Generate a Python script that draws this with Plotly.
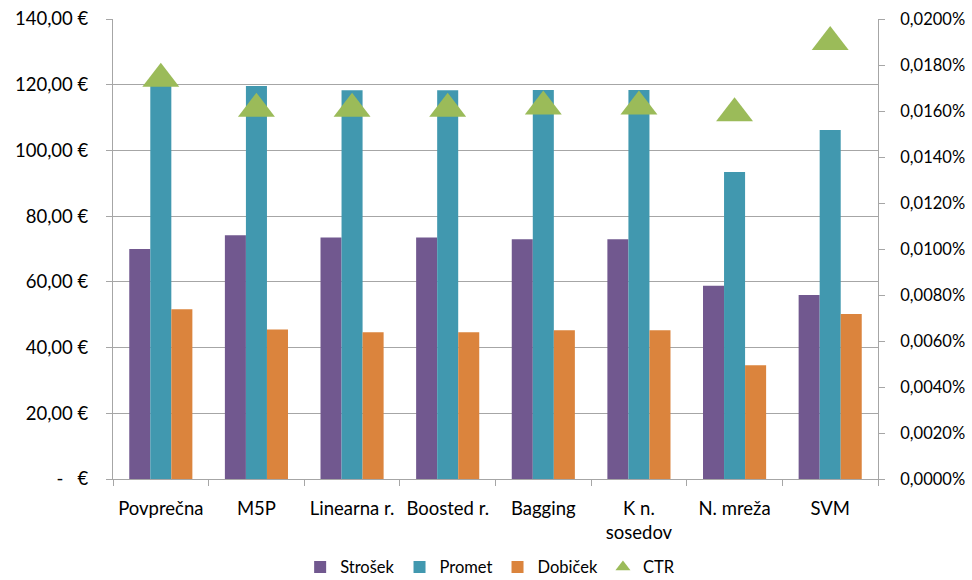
import plotly.graph_objects as go

categories = ["Povprečna", "M5P", "Linearna r.", "Boosted r.", "Bagging", "K n.<br>sosedov", "N. mreža", "SVM"]
strosek = [70.0, 74.2, 73.5, 73.5, 73.0, 73.0, 58.8, 56.0]
promet = [121.5, 119.6, 118.3, 118.3, 118.4, 118.4, 93.4, 106.2]
dobicek = [51.7, 45.5, 44.7, 44.7, 45.3, 45.3, 34.6, 50.2]
ctr = [0.0174, 0.0161, 0.0161, 0.0161, 0.0162, 0.0162, 0.0159, 0.0190]

NB = "\u00a0"
left_vals = [0, 20, 40, 60, 80, 100, 120, 140]
left_text = ["-" + NB * 3 + "€", "20,00" + NB + "€", "40,00" + NB + "€", "60,00" + NB + "€",
             "80,00" + NB + "€", "100,00" + NB + "€", "120,00" + NB + "€", "140,00" + NB + "€"]
right_vals = [0, 0.002, 0.004, 0.006, 0.008, 0.010, 0.012, 0.014, 0.016, 0.018, 0.020]
right_text = ["0,0000%", "0,0020%", "0,0040%", "0,0060%", "0,0080%", "0,0100%",
              "0,0120%", "0,0140%", "0,0160%", "0,0180%", "0,0200%"]

FONT = "Lato, 'Open Sans', sans-serif"
FS = 18.5
GREEN = "#9BBB59"
fig = go.Figure()
fig.add_bar(x=categories, y=strosek, name="Strošek", marker=dict(color="#71588F", line=dict(width=0)))
fig.add_bar(x=categories, y=promet, name="Promet", marker=dict(color="#4198AF", line=dict(width=0)))
fig.add_bar(x=categories, y=dobicek, name="Dobiček", marker=dict(color="#DB843D", line=dict(width=0)))
fig.add_scatter(x=categories, y=ctr, name="CTR", mode="markers", yaxis="y2", showlegend=False,
                legendgroup="ctr", marker=dict(symbol="triangle-up", size=32, color=GREEN))
# legend-only entry with a small triangle symbol
fig.add_scatter(x=[None], y=[None], name="CTR", mode="markers", yaxis="y2", legendgroup="ctr",
                marker=dict(symbol="triangle-up", size=13, color=GREEN))

fig.update_layout(
    width=972, height=580,
    margin=dict(l=113, r=94, t=19, b=101, autoexpand=False),
    paper_bgcolor="white", plot_bgcolor="white",
    font=dict(family=FONT, size=FS, color="#000000"),
    barmode="group", bargap=0.34, bargroupgap=0.0,
    showlegend=True,
    legend=dict(orientation="h", x=0.493, xanchor="center", y=0.022, yanchor="middle",
                yref="container", font=dict(size=16.5), itemwidth=30, traceorder="normal"),
    xaxis=dict(range=[-0.5, len(categories) - 0.5], showline=True, linecolor="#A6A6A6",
               linewidth=1, ticks="outside",
               tickson="boundaries", ticklen=6, tickcolor="#A6A6A6", showgrid=False,
               tickangle=0, ticklabelstandoff=13, automargin=False),
    yaxis=dict(range=[0, 140], tickvals=left_vals, ticktext=left_text, showline=True,
               linecolor="#A6A6A6", linewidth=1, ticks="outside", ticklen=6,
               tickcolor="#A6A6A6", showgrid=True, gridcolor="#A6A6A6", gridwidth=1,
               zeroline=False, ticklabelstandoff=14, automargin=False),
    yaxis2=dict(range=[0, 0.020], tickvals=right_vals, ticktext=right_text, overlaying="y",
                side="right", showline=True, linecolor="#A6A6A6", linewidth=1,
                ticks="outside", ticklen=6, tickcolor="#A6A6A6", showgrid=False,
                tickfont=dict(size=16.5),
                zeroline=False, ticklabelstandoff=12, automargin=False),
)

fig.write_html("out.html")
